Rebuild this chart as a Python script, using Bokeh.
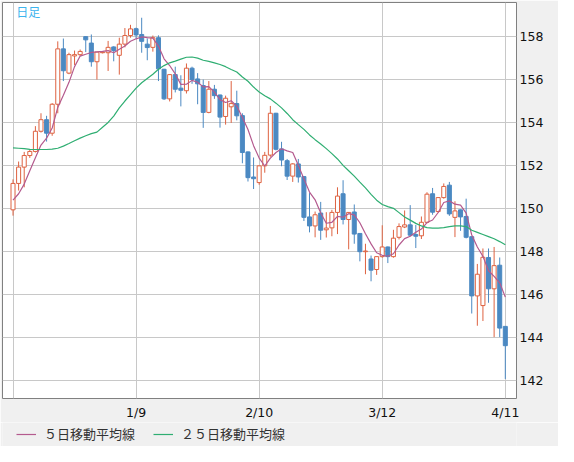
from bokeh.plotting import figure
from bokeh.layouts import column
from bokeh.models import Range1d, FixedTicker, Legend, LegendItem, Label, ColumnDataSource
from bokeh.embed import file_html
from bokeh.resources import INLINE

# ---- data (daily candles) ----
opens = [149.93, 151.16, 151.92, 152.46, 152.65, 153.59, 154.13, 153.50, 154.85, 157.43,
         156.30, 157.10, 157.16, 158.00, 157.70, 156.83, 157.25, 157.25, 157.52, 157.13,
         157.65, 158.05, 158.37, 158.10, 157.65, 157.50, 157.95, 156.48, 155.10, 156.23,
         155.60, 155.48, 156.53, 156.03, 155.72, 154.47, 155.55, 155.28, 154.28, 154.73,
         154.88, 154.32, 152.63, 151.46, 151.20, 151.98, 152.48, 154.43, 152.77, 152.22,
         151.50, 152.07, 151.48, 149.60, 149.18, 149.78, 149.00, 149.09, 149.81, 150.68,
         149.48, 149.83, 148.83, 147.98, 147.64, 147.15, 147.75, 148.20, 147.75, 148.65,
         149.13, 149.23, 148.78, 148.72, 149.35, 150.68, 149.85, 150.50, 151.08, 149.58,
         149.93, 149.62, 148.68, 145.92, 145.47, 147.71, 146.25, 147.35, 144.50]
highs = [151.35, 152.18, 152.63, 152.72, 153.83, 154.43, 154.31, 154.90, 157.78, 157.91,
         157.25, 157.35, 157.40, 158.02, 158.10, 157.28, 157.30, 157.80, 157.55, 157.95,
         158.40, 158.55, 158.42, 158.88, 157.92, 158.05, 158.06, 156.50, 156.25, 156.60,
         156.20, 156.75, 156.60, 156.30, 156.00, 155.93, 155.75, 155.30, 155.25, 155.93,
         155.48, 154.43, 152.65, 152.37, 152.00, 152.63, 154.77, 154.45, 153.10, 152.30,
         152.10, 152.30, 151.50, 150.71, 149.85, 150.30, 149.82, 149.93, 150.98, 151.31,
         149.82, 150.18, 148.85, 148.35, 147.80, 147.75, 149.21, 148.22, 149.00, 149.30,
         149.90, 150.15, 149.23, 149.62, 150.75, 150.95, 150.52, 151.16, 151.23, 150.33,
         149.95, 150.45, 148.70, 147.41, 148.13, 148.13, 148.20, 147.71, 144.50]
lows = [149.66, 150.83, 150.98, 152.35, 152.60, 153.53, 153.11, 153.38, 154.43, 155.93,
        156.25, 156.68, 157.10, 157.28, 156.60, 156.00, 157.22, 156.40, 156.85, 156.23,
        157.50, 157.95, 157.90, 157.25, 156.90, 157.30, 155.93, 155.05, 154.98, 155.40,
        154.75, 155.35, 155.80, 154.85, 153.75, 154.43, 155.10, 153.76, 153.90, 153.98,
        154.10, 152.10, 151.25, 150.90, 151.10, 151.66, 152.40, 152.70, 151.96, 151.32,
        151.23, 151.20, 149.41, 148.88, 148.65, 148.53, 148.64, 148.70, 148.80, 149.25,
        148.09, 148.35, 147.53, 146.93, 146.60, 146.90, 147.70, 147.45, 147.70, 148.55,
        149.08, 148.70, 148.15, 148.57, 149.30, 149.70, 149.80, 150.45, 149.65, 148.66,
        148.95, 148.60, 145.10, 144.53, 144.75, 145.60, 144.00, 144.00, 142.05]
closes = [151.16, 151.92, 152.46, 152.65, 153.59, 154.13, 153.50, 154.85, 157.43, 156.41,
          157.16, 157.16, 157.31, 157.85, 156.83, 157.28, 157.28, 157.50, 157.35, 157.65,
          158.05, 158.36, 158.08, 157.78, 157.49, 157.95, 156.50, 155.10, 156.23, 155.55,
          155.50, 156.53, 156.00, 155.80, 154.47, 155.55, 155.25, 154.25, 155.13, 154.88,
          154.31, 152.60, 151.43, 151.38, 151.98, 152.47, 154.43, 152.75, 152.25, 151.50,
          152.07, 151.46, 149.58, 149.18, 149.70, 148.98, 149.08, 149.81, 150.57, 149.48,
          149.81, 148.80, 147.98, 148.01, 147.12, 147.75, 148.20, 147.75, 148.61, 149.15,
          149.23, 148.75, 148.70, 149.35, 150.66, 149.82, 150.50, 151.02, 149.74, 149.88,
          149.60, 148.65, 145.92, 146.93, 147.72, 146.25, 147.33, 144.42, 143.60]
ma25 = [152.82, 152.80, 152.78, 152.75, 152.74, 152.74, 152.74, 152.76, 152.80, 152.90,
        153.02, 153.15, 153.27, 153.38, 153.48, 153.55, 153.78, 154.00, 154.30, 154.68,
        155.00, 155.30, 155.60, 155.85, 156.05, 156.25, 156.48, 156.65, 156.78, 156.86,
        156.95, 157.04, 157.05, 157.00, 156.90, 156.85, 156.78, 156.70, 156.60, 156.47,
        156.35, 156.12, 155.92, 155.65, 155.42, 155.25, 155.10, 154.90, 154.68, 154.42,
        154.13, 153.90, 153.68, 153.42, 153.20, 153.00, 152.78, 152.55, 152.30, 152.00,
        151.75, 151.50, 151.22, 150.95, 150.65, 150.38, 150.18, 150.08, 150.00, 149.80,
        149.60, 149.45, 149.30, 149.18, 149.10, 149.08, 149.08, 149.10, 149.15, 149.18,
        149.18, 149.15, 148.98, 148.88, 148.78, 148.68, 148.58, 148.45, 148.30]
ma5_first = [150.38, 150.68, 151.13, 151.75]   # 5-day MA before 5 closes are visible
x_tick_days = [0, 22, 44, 66, 88]
x_tick_labels = ["", "1/9", "2/10", "3/12", "4/11"]
y_ticks = [142, 144, 146, 148, 150, 152, 154, 156, 158]
legend_labels = ["５日移動平均線", "２５日移動平均線"]

n = len(closes)
idx = list(range(n))
ma5 = ma5_first + [sum(closes[i - 4:i + 1]) / 5 for i in range(4, n)]

RED = "#de6240"
BLUE = "#4b89c2"
C_MA5 = "#b45a8e"
C_MA25 = "#2fae72"
BG = "#f0f0f0"
up = [c >= o for o, c in zip(opens, closes)]
src = ColumnDataSource(dict(
    x=idx, high=highs, low=lows,
    top=[max(o, c) for o, c in zip(opens, closes)],
    bottom=[min(o, c) for o, c in zip(opens, closes)],
    color=[RED if u else BLUE for u in up],
    fill=["#ffffff" if u else BLUE for u in up],
))

p = figure(width=558, height=422,
           min_border_left=2, min_border_top=2, min_border_right=42, min_border_bottom=22,
           x_range=Range1d(-1.88, 90.0), y_range=Range1d(141.14, 159.59),
           y_axis_location="right", output_backend="svg", toolbar_location=None,
           background_fill_color="#ffffff", border_fill_color=BG,
           outline_line_color="#808080", outline_line_width=1)

# axes
p.xaxis.ticker = FixedTicker(ticks=x_tick_days)
p.xaxis.major_label_overrides = {d: t for d, t in zip(x_tick_days, x_tick_labels)}
p.yaxis.ticker = FixedTicker(ticks=y_ticks)
for ax in (p.xaxis[0], p.yaxis[0]):
    ax.axis_line_color = None
    ax.major_tick_line_color = None
    ax.minor_tick_line_color = None
    ax.major_tick_out = 0
    ax.major_tick_in = 0
    ax.major_label_text_font = "DejaVu Sans"
    ax.major_label_text_font_size = "12.5px"
    ax.major_label_text_color = "#111111"
p.xaxis.major_label_standoff = 6
p.yaxis.major_label_standoff = 3

p.xgrid.ticker = p.xaxis[0].ticker
p.ygrid.ticker = p.yaxis[0].ticker
p.xgrid.grid_line_color = "#c8c8c8"
p.ygrid.grid_line_color = "#c8c8c8"

# candles
p.segment(x0="x", y0="low", x1="x", y1="high", color="color", line_width=1, source=src)
p.vbar(x="x", width=0.72, top="top", bottom="bottom", fill_color="fill",
       line_color="color", line_width=1, source=src)

# moving averages
p.line(idx, ma5, line_color=C_MA5, line_width=1.2)
p.line(idx, ma25, line_color=C_MA25, line_width=1.2)

p.add_layout(Label(x=0.6, y=159.18, text="日足", text_font="Noto Sans CJK JP",
                   text_font_size="12px", text_color="#3cb4ee",
                   text_baseline="middle", text_align="left"))

# legend strip under the chart (its lines sit outside the strip's visible range)
lg = figure(width=558, height=24, min_border=0, x_range=Range1d(0, 1), y_range=Range1d(0, 1),
            x_axis_type=None, y_axis_type=None, output_backend="svg", toolbar_location=None,
            background_fill_color=BG, border_fill_color=BG, outline_line_color=None)
k5 = lg.line([-2, -1], [-2, -2], line_color=C_MA5, line_width=1.2)
k25 = lg.line([-2, -1], [-2, -2], line_color=C_MA25, line_width=1.2)
legend = Legend(items=[LegendItem(label=legend_labels[0], renderers=[k5]),
                       LegendItem(label=legend_labels[1], renderers=[k25])],
                orientation="horizontal", location=(12, 1),
                glyph_width=20, glyph_height=14, label_standoff=8, spacing=18,
                padding=2, margin=0, label_text_font="Noto Sans CJK JP",
                label_text_font_size="13px", label_text_color="#333333",
                label_height=14, border_line_alpha=0, background_fill_alpha=0)
lg.add_layout(legend)

page = column(p, lg, spacing=0)
open("out.html", "w").write(file_html(page, INLINE))
